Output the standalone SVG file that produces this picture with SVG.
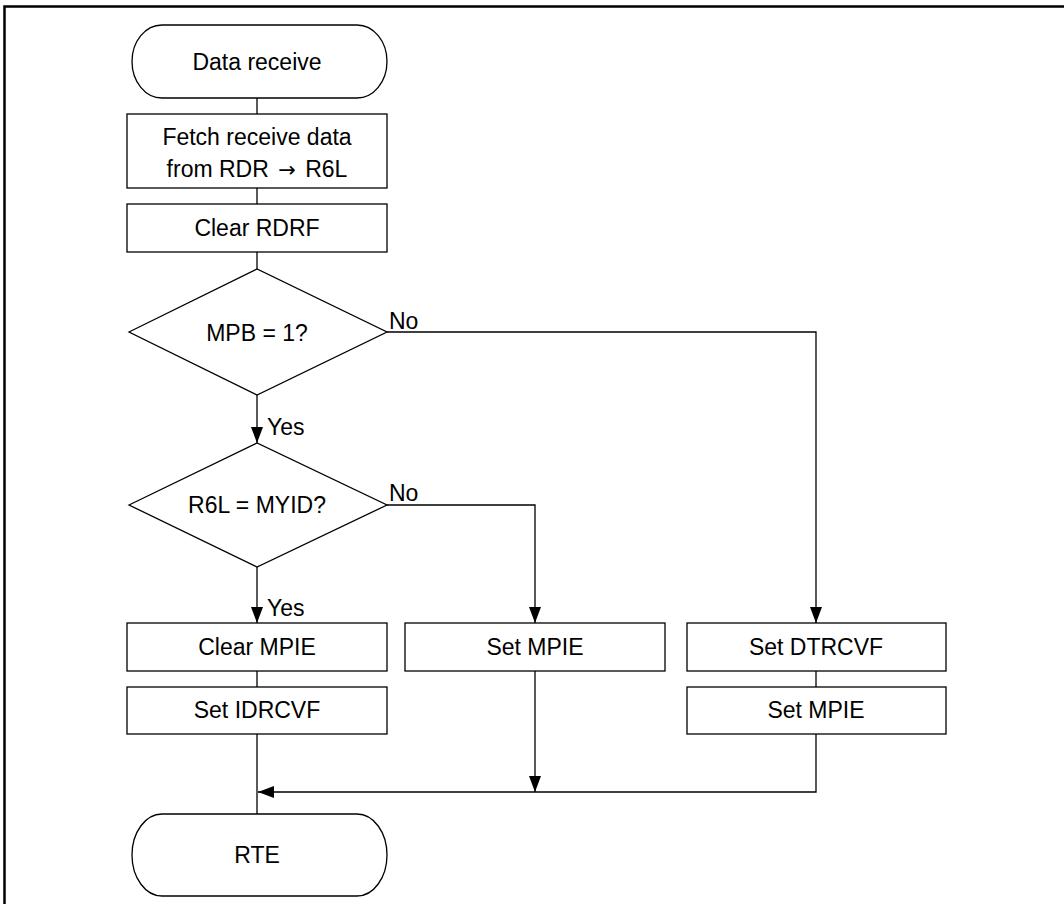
<svg xmlns="http://www.w3.org/2000/svg" width="1064" height="904" viewBox="0 0 1064 904">
<style>
.s{fill:#fff;stroke:#000;stroke-width:1.3}
.c{fill:none;stroke:#000;stroke-width:1.3}
.t{font-family:"Liberation Sans",Arial,sans-serif;font-size:23px;fill:#000;text-anchor:middle}
.l{font-family:"Liberation Sans",Arial,sans-serif;font-size:23px;fill:#000}
.a{font-family:"DejaVu Sans",sans-serif;font-size:21px}
</style>
<defs>
<marker id="ah" markerWidth="16" markerHeight="12" refX="16" refY="6" orient="auto" markerUnits="userSpaceOnUse">
<path d="M0,0 L16,6 L0,12 Z" fill="#000"/>
</marker>
</defs>
<rect width="1064" height="904" fill="#fff"/>
<path d="M4.5,904 V6.5 H1064" fill="none" stroke="#000" stroke-width="2.5"/>
<g id="connectors">
<path class="c" d="M257,98 V114"/>
<path class="c" d="M257,188 V204"/>
<path class="c" d="M257,252 V269"/>
<path class="c" d="M257,395 V443" marker-end="url(#ah)"/>
<path class="c" d="M387,332 H816 V623" marker-end="url(#ah)"/>
<path class="c" d="M387,505 H535 V623" marker-end="url(#ah)"/>
<path class="c" d="M257,567 V623" marker-end="url(#ah)"/>
<path class="c" d="M257,671 V687"/>
<path class="c" d="M816,671 V687"/>
<path class="c" d="M257,734 V814"/>
<path class="c" d="M535,671 V792" marker-end="url(#ah)"/>
<path class="c" d="M816,734 V792 H258" marker-end="url(#ah)"/>
<text class="l" x="389" y="329">No</text>
<text class="l" x="389" y="501">No</text>
<text class="l" x="267" y="435">Yes</text>
<text class="l" x="267" y="616">Yes</text>
</g>
<g id="start">
<rect class="s" x="132" y="25" width="255" height="73" rx="30" ry="36.5"/>
<text class="t" x="257" y="70">Data receive</text>
</g>
<g id="fetch">
<rect class="s" x="127" y="114" width="260" height="74"/>
<text class="t" x="257" y="145">Fetch receive data</text>
<text class="t" x="257" y="177">from RDR <tspan class="a" dx="3">→</tspan><tspan dx="3"> R6L</tspan></text>
</g>
<g id="clear-rdrf">
<rect class="s" x="127" y="204" width="260" height="48"/>
<text class="t" x="257" y="236">Clear RDRF</text>
</g>
<g id="mpb">
<polygon class="s" points="129,332 257,269 387,332 257,395"/>
<text class="t" x="257" y="341">MPB = 1?</text>
</g>
<g id="myid">
<polygon class="s" points="129,505 257,443 387,505 257,567"/>
<text class="t" x="257" y="513">R6L = MYID?</text>
</g>
<g id="clear-mpie">
<rect class="s" x="127" y="623" width="260" height="48"/>
<text class="t" x="257" y="655">Clear MPIE</text>
</g>
<g id="set-idrcvf">
<rect class="s" x="127" y="687" width="260" height="47"/>
<text class="t" x="257" y="718">Set IDRCVF</text>
</g>
<g id="set-mpie-mid">
<rect class="s" x="405" y="623" width="260" height="48"/>
<text class="t" x="535" y="655">Set MPIE</text>
</g>
<g id="set-dtrcvf">
<rect class="s" x="687" y="623" width="259" height="48"/>
<text class="t" x="816" y="655">Set DTRCVF</text>
</g>
<g id="set-mpie-right">
<rect class="s" x="687" y="687" width="259" height="47"/>
<text class="t" x="816" y="718">Set MPIE</text>
</g>
<g id="rte">
<rect class="s" x="132" y="814" width="255" height="82" rx="30" ry="41"/>
<text class="t" x="257" y="863">RTE</text>
</g>
</svg>
